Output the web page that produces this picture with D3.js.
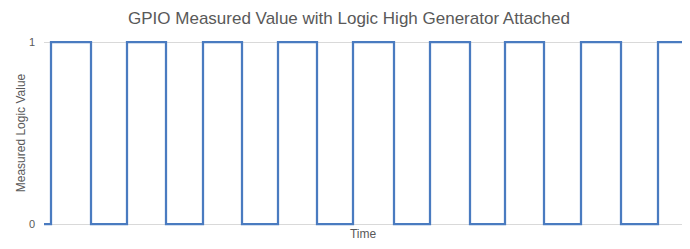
<!DOCTYPE html>
<html>
    <head>
        <meta charset="utf-8">
        <title>GPIO Measured Value</title>
        <script src="https://d3js.org/d3.v7.min.js"></script>
        <style>
            body{
                margin: 0;
                background: #ffffff;
                font-family: "Liberation Sans", Arial, sans-serif;
            }
            .grid line{ stroke: #d9d9d9; stroke-width: 1px; }
            .grid path{ display: none; }
            .ytick text{ fill: #595959; font-size: 11px; }
        </style>
    </head>
    <body>
        <svg width="690" height="249"></svg>
    <script>
        // sample time (arbitrary units) and measured logic level, one pair per corner of the trace
        var timeSamples = [0, 7, 7, 47, 47, 83, 83, 122, 122, 159, 159, 198, 198, 234, 234, 273, 273,
                           309, 309, 350, 350, 386, 386, 426, 426, 461, 461, 500, 500, 537, 537,
                           577, 577, 614, 614, 638];
        var logicValues = [0, 0, 1, 1, 0, 0, 1, 1, 0, 0, 1, 1, 0, 0, 1, 1, 0,
                           0, 1, 1, 0, 0, 1, 1, 0, 0, 1, 1, 0, 0, 1,
                           1, 0, 0, 1, 1];
        var yTicks = [0, 1];

        var svg = d3.select("svg"),
            width = +svg.attr("width"),
            height = +svg.attr("height");

        var margin = {left: 44, right: 8, top: 42, bottom: 25};

        var x = d3.scaleLinear()
            .domain([0, 638])
            .range([margin.left, width - margin.right]);

        var y = d3.scaleLinear()
            .domain([0, 1])
            .range([height - margin.bottom, margin.top]);

        // gridlines + tick labels
        var yAxis = svg.append("g")
            .attr("class", "grid ytick")
            .attr("transform", "translate(" + margin.left + ",0)")
            .call(d3.axisLeft(y)
                .tickValues(yTicks)
                .tickFormat(d3.format("d"))
                .tickSize(-(width - margin.left - margin.right))
                .tickPadding(9));

        var pts = timeSamples.map(function (t, i) {return [t, logicValues[i]];});

        var line = d3.line()
            .x(function (d) {return x(d[0]);})
            .y(function (d) {return y(d[1]);});

        svg.append("path")
            .datum(pts)
            .attr("fill", "none")
            .attr("stroke", "#4a7bc0")
            .attr("stroke-width", 2.25)
            .attr("stroke-linejoin", "miter")
            .attr("d", line);

        svg.append("text")
            .attr("x", 349)
            .attr("y", 24)
            .attr("text-anchor", "middle")
            .attr("fill", "#595959")
            .style("font-size", "17px")
            .text("GPIO Measured Value with Logic High Generator Attached");

        svg.append("text")
            .attr("x", (margin.left + width - margin.right) / 2)
            .attr("y", 238)
            .attr("text-anchor", "middle")
            .attr("fill", "#595959")
            .style("font-size", "12px")
            .text("Time");

        svg.append("text")
            .attr("transform", "translate(25," + ((margin.top + height - margin.bottom) / 2) + ") rotate(-90)")
            .attr("text-anchor", "middle")
            .attr("fill", "#595959")
            .style("font-size", "12px")
            .text("Measured Logic Value");
    </script>
    </body>
</html>
